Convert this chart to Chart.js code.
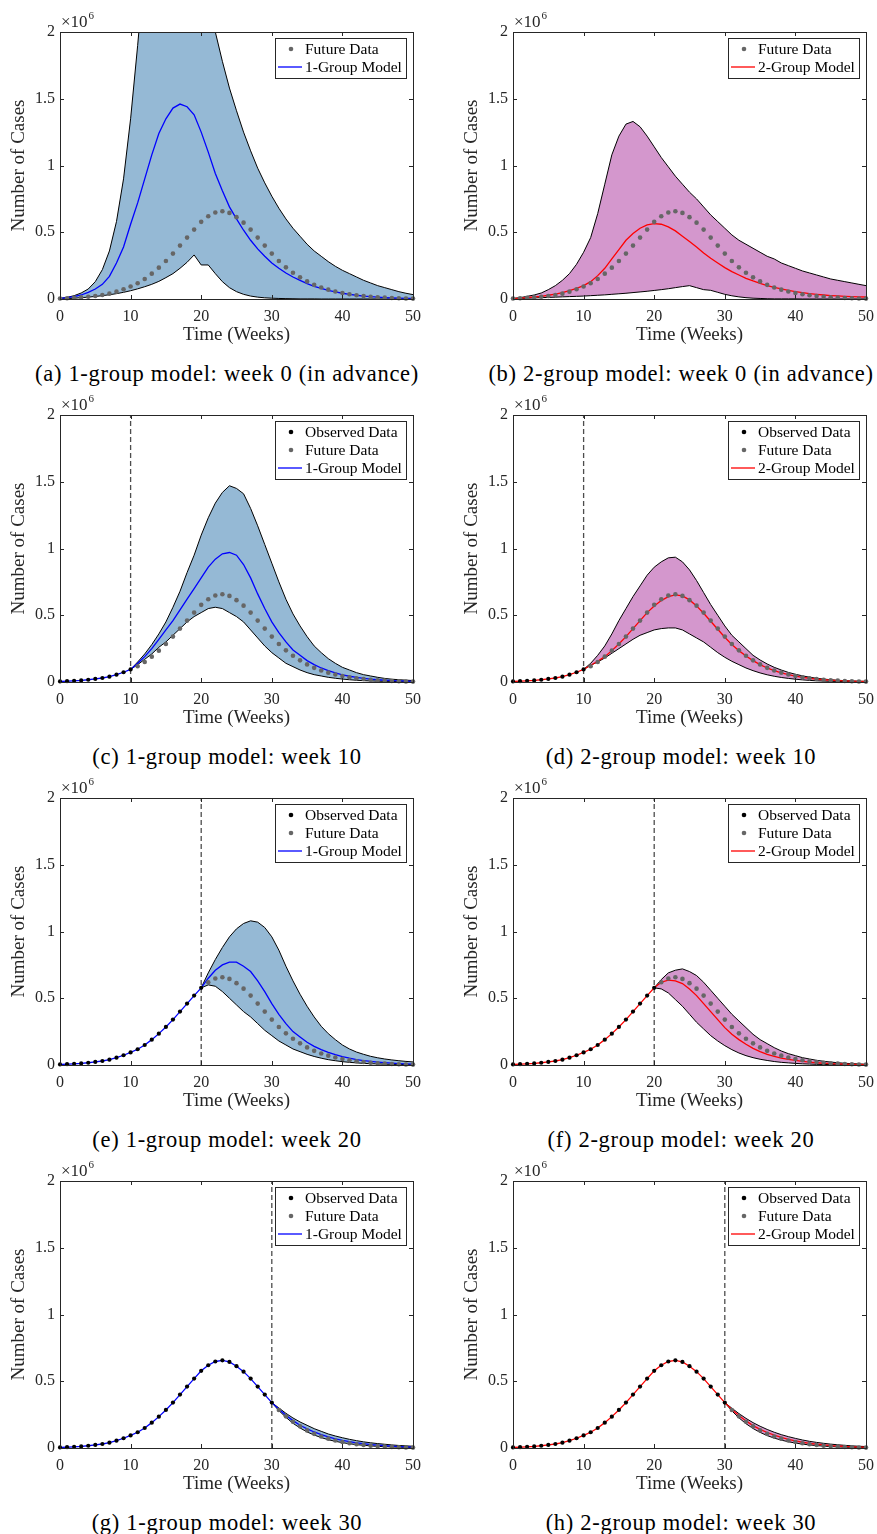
<!DOCTYPE html>
<html>
<head>
<meta charset="utf-8">
<script src="https://cdn.jsdelivr.net/npm/chart.js@4.4.1/dist/chart.umd.min.js"></script>
<style>
  body { margin: 0; background: #fff; width: 877px; height: 1534px; position: relative; overflow: hidden; font-family: "Liberation Serif", serif; }
  .panel { position: absolute; width: 424px; height: 350px; }
  .caption { position: absolute; width: 454px; text-align: center; font-size: 22.5px; letter-spacing: 0.7px; line-height: 24px; color: #000; white-space: nowrap; }
</style>
</head>
<body>
<script>
// weeks on the x axis
const weeks = [0, 1, 2, 3, 4, 5, 6, 7, 8, 9, 10, 11, 12, 13, 14, 15, 16, 17, 18, 19, 20,
  21, 22, 23, 24, 25, 26, 27, 28, 29, 30, 31, 32, 33, 34, 35, 36, 37, 38, 39, 40,
  41, 42, 43, 44, 45, 46, 47, 48, 49, 50];

// weekly cases (x10^6), weeks 0..50
const reportedCases = [0.004, 0.006, 0.009, 0.012, 0.017, 0.023, 0.030, 0.040, 0.055, 0.073,
  0.094, 0.118, 0.150, 0.190, 0.235, 0.285, 0.340, 0.400, 0.460, 0.520,
  0.578, 0.620, 0.648, 0.657, 0.645, 0.613, 0.572, 0.520, 0.460, 0.400,
  0.340, 0.285, 0.237, 0.197, 0.162, 0.132, 0.106, 0.086, 0.070, 0.056,
  0.045, 0.036, 0.028, 0.022, 0.017, 0.013, 0.010, 0.008, 0.006, 0.004, 0.003];

// forecast made at week 0 (weeks 0..50)
const oneGroupWeek0Mean = [0.004, 0.010, 0.018, 0.030, 0.050, 0.075, 0.110, 0.170, 0.270, 0.390,
  0.560, 0.720, 0.900, 1.080, 1.240, 1.350, 1.430, 1.460, 1.440, 1.380,
  1.250, 1.100, 0.940, 0.810, 0.690, 0.600, 0.515, 0.440, 0.375, 0.320,
  0.270, 0.230, 0.195, 0.165, 0.140, 0.115, 0.095, 0.080, 0.065, 0.053,
  0.043, 0.035, 0.028, 0.022, 0.018, 0.014, 0.011, 0.009, 0.007, 0.005, 0.004];
const oneGroupWeek0Upper = [0.005, 0.012, 0.025, 0.045, 0.075, 0.130, 0.220, 0.360, 0.580, 0.900,
  1.350, 1.900, 2.500, 3.000, 3.400, 3.600, 3.650, 3.600, 3.400, 3.100,
  2.750, 2.350, 2.000, 1.780, 1.580, 1.410, 1.250, 1.110, 0.980, 0.870,
  0.770, 0.680, 0.600, 0.530, 0.470, 0.410, 0.360, 0.320, 0.280, 0.245,
  0.215, 0.190, 0.165, 0.140, 0.120, 0.100, 0.085, 0.070, 0.055, 0.043, 0.033];
const oneGroupWeek0Lower = [0.000, 0.003, 0.006, 0.010, 0.014, 0.019, 0.025, 0.032, 0.040, 0.050,
  0.062, 0.076, 0.092, 0.110, 0.132, 0.160, 0.190, 0.230, 0.275, 0.330,
  0.255, 0.255, 0.190, 0.130, 0.085, 0.055, 0.035, 0.022, 0.014, 0.009,
  0.006, 0.004, 0.003, 0.002, 0.001, 0.001, 0.001, 0.000, 0.000, 0.000,
  0.000, 0.000, 0.000, 0.000, 0.000, 0.000, 0.000, 0.000, 0.000, 0.000, 0.000];

const twoGroupWeek0Mean = [0.003, 0.006, 0.010, 0.015, 0.020, 0.028, 0.037, 0.048, 0.062, 0.080,
  0.100, 0.130, 0.175, 0.230, 0.300, 0.370, 0.440, 0.490, 0.530, 0.555,
  0.565, 0.560, 0.540, 0.510, 0.470, 0.430, 0.390, 0.345, 0.305, 0.270,
  0.235, 0.205, 0.180, 0.155, 0.135, 0.117, 0.100, 0.087, 0.075, 0.064,
  0.055, 0.047, 0.040, 0.035, 0.030, 0.026, 0.023, 0.020, 0.018, 0.016, 0.015];
const twoGroupWeek0Upper = [0.005, 0.010, 0.020, 0.030, 0.045, 0.070, 0.100, 0.140, 0.190, 0.260,
  0.350, 0.460, 0.640, 0.860, 1.080, 1.220, 1.310, 1.330, 1.290, 1.220,
  1.140, 1.060, 0.990, 0.920, 0.860, 0.800, 0.750, 0.690, 0.630, 0.580,
  0.530, 0.480, 0.440, 0.410, 0.380, 0.350, 0.320, 0.300, 0.270, 0.250,
  0.230, 0.210, 0.195, 0.180, 0.165, 0.150, 0.140, 0.130, 0.120, 0.110, 0.100];
const twoGroupWeek0Lower = [0.002, 0.004, 0.006, 0.008, 0.010, 0.012, 0.014, 0.016, 0.018, 0.020,
  0.022, 0.025, 0.028, 0.031, 0.035, 0.039, 0.043, 0.048, 0.053, 0.058,
  0.064, 0.070, 0.077, 0.085, 0.093, 0.100, 0.085, 0.070, 0.065, 0.050,
  0.035, 0.024, 0.016, 0.010, 0.006, 0.004, 0.002, 0.001, 0.001, 0.001,
  0.001, 0.000, 0.000, 0.000, 0.000, 0.000, 0.000, 0.000, 0.000, 0.000, 0.000];

// forecast made at week 10 (weeks 10..50)
const oneGroupWeek10Mean = [0.094, 0.140, 0.190, 0.250, 0.320, 0.390, 0.460, 0.540, 0.620, 0.700,
  0.780, 0.860, 0.920, 0.960, 0.970, 0.950, 0.880, 0.780, 0.660, 0.550,
  0.450, 0.370, 0.300, 0.240, 0.200, 0.160, 0.130, 0.105, 0.085, 0.068,
  0.054, 0.043, 0.034, 0.027, 0.021, 0.017, 0.013, 0.010, 0.008, 0.006, 0.005];
const oneGroupWeek10Upper = [0.094, 0.150, 0.210, 0.280, 0.360, 0.450, 0.560, 0.680, 0.820, 0.950,
  1.100, 1.230, 1.340, 1.420, 1.470, 1.450, 1.410, 1.300, 1.170, 1.030,
  0.890, 0.750, 0.620, 0.510, 0.420, 0.340, 0.270, 0.220, 0.175, 0.140,
  0.110, 0.090, 0.070, 0.055, 0.045, 0.035, 0.027, 0.021, 0.017, 0.014, 0.011];
const oneGroupWeek10Lower = [0.094, 0.130, 0.170, 0.210, 0.260, 0.300, 0.350, 0.400, 0.450, 0.490,
  0.520, 0.550, 0.560, 0.550, 0.520, 0.490, 0.450, 0.390, 0.330, 0.270,
  0.220, 0.180, 0.140, 0.115, 0.090, 0.070, 0.055, 0.045, 0.035, 0.028,
  0.022, 0.017, 0.013, 0.010, 0.008, 0.006, 0.005, 0.004, 0.003, 0.002, 0.002];

const twoGroupWeek10Mean = [0.094, 0.125, 0.155, 0.190, 0.235, 0.285, 0.340, 0.400, 0.460, 0.520,
  0.570, 0.610, 0.640, 0.652, 0.645, 0.615, 0.570, 0.515, 0.455, 0.395,
  0.335, 0.280, 0.235, 0.195, 0.160, 0.130, 0.105, 0.085, 0.068, 0.055,
  0.044, 0.035, 0.028, 0.022, 0.017, 0.013, 0.010, 0.008, 0.006, 0.005, 0.004];
const twoGroupWeek10Upper = [0.094, 0.140, 0.200, 0.270, 0.360, 0.460, 0.550, 0.640, 0.720, 0.800,
  0.860, 0.900, 0.930, 0.935, 0.900, 0.840, 0.760, 0.670, 0.580, 0.500,
  0.420, 0.350, 0.300, 0.250, 0.200, 0.165, 0.135, 0.110, 0.090, 0.072,
  0.058, 0.046, 0.036, 0.028, 0.022, 0.017, 0.013, 0.010, 0.008, 0.006, 0.005];
const twoGroupWeek10Lower = [0.094, 0.125, 0.150, 0.180, 0.215, 0.250, 0.285, 0.320, 0.350, 0.370,
  0.390, 0.400, 0.405, 0.405, 0.390, 0.360, 0.330, 0.300, 0.260, 0.220,
  0.185, 0.155, 0.130, 0.105, 0.085, 0.068, 0.054, 0.043, 0.034, 0.027,
  0.021, 0.016, 0.012, 0.009, 0.007, 0.005, 0.004, 0.003, 0.002, 0.002, 0.001];

// forecast made at week 20 (weeks 20..50)
const oneGroupWeek20Mean = [0.578, 0.650, 0.710, 0.750, 0.770, 0.770, 0.740, 0.700, 0.630, 0.550,
  0.460, 0.380, 0.310, 0.250, 0.210, 0.170, 0.140, 0.115, 0.095, 0.077,
  0.063, 0.051, 0.041, 0.033, 0.027, 0.022, 0.018, 0.014, 0.011, 0.009, 0.007];
const oneGroupWeek20Upper = [0.578, 0.690, 0.790, 0.880, 0.960, 1.020, 1.060, 1.080, 1.070, 1.030,
  0.960, 0.860, 0.740, 0.630, 0.530, 0.440, 0.360, 0.290, 0.235, 0.190,
  0.150, 0.120, 0.097, 0.080, 0.065, 0.054, 0.045, 0.038, 0.032, 0.027, 0.023];
const oneGroupWeek20Lower = [0.578, 0.600, 0.590, 0.550, 0.500, 0.450, 0.400, 0.360, 0.310, 0.260,
  0.220, 0.180, 0.150, 0.120, 0.100, 0.080, 0.064, 0.051, 0.040, 0.032,
  0.025, 0.020, 0.016, 0.012, 0.010, 0.008, 0.006, 0.005, 0.004, 0.003, 0.002];

const twoGroupWeek20Mean = [0.578, 0.620, 0.635, 0.630, 0.610, 0.570, 0.520, 0.460, 0.400, 0.340,
  0.280, 0.230, 0.190, 0.155, 0.125, 0.100, 0.080, 0.065, 0.052, 0.042,
  0.034, 0.027, 0.021, 0.017, 0.013, 0.010, 0.008, 0.006, 0.005, 0.004, 0.003];
const twoGroupWeek20Upper = [0.578, 0.640, 0.690, 0.710, 0.720, 0.700, 0.670, 0.620, 0.560, 0.500,
  0.440, 0.380, 0.330, 0.280, 0.230, 0.190, 0.160, 0.130, 0.105, 0.085,
  0.070, 0.055, 0.045, 0.035, 0.028, 0.022, 0.017, 0.013, 0.010, 0.008, 0.006];
const twoGroupWeek20Lower = [0.578, 0.570, 0.540, 0.490, 0.440, 0.380, 0.320, 0.270, 0.220, 0.180,
  0.145, 0.115, 0.090, 0.070, 0.055, 0.043, 0.034, 0.026, 0.020, 0.016,
  0.012, 0.009, 0.007, 0.005, 0.004, 0.003, 0.002, 0.002, 0.001, 0.001, 0.001];

// forecast made at week 30 (weeks 30..50)
const oneGroupWeek30Mean = [0.340, 0.290, 0.245, 0.205, 0.170, 0.143, 0.120, 0.100, 0.083, 0.069,
  0.057, 0.047, 0.039, 0.032, 0.026, 0.021, 0.017, 0.014, 0.011, 0.009, 0.007];
const oneGroupWeek30Upper = [0.340, 0.300, 0.260, 0.225, 0.195, 0.170, 0.145, 0.125, 0.105, 0.090,
  0.077, 0.065, 0.055, 0.046, 0.039, 0.033, 0.028, 0.023, 0.019, 0.016, 0.013];
const oneGroupWeek30Lower = [0.340, 0.280, 0.230, 0.185, 0.150, 0.120, 0.097, 0.078, 0.062, 0.050,
  0.040, 0.032, 0.025, 0.020, 0.016, 0.012, 0.010, 0.008, 0.006, 0.005, 0.004];

const twoGroupWeek30Mean = [0.340, 0.288, 0.243, 0.203, 0.168, 0.140, 0.116, 0.096, 0.079, 0.065,
  0.053, 0.043, 0.035, 0.028, 0.023, 0.018, 0.015, 0.012, 0.009, 0.007, 0.006];
const twoGroupWeek30Upper = [0.340, 0.298, 0.258, 0.222, 0.190, 0.163, 0.139, 0.118, 0.100, 0.085,
  0.072, 0.060, 0.050, 0.042, 0.035, 0.029, 0.024, 0.020, 0.016, 0.013, 0.011];
const twoGroupWeek30Lower = [0.340, 0.278, 0.226, 0.182, 0.146, 0.117, 0.093, 0.074, 0.059, 0.047,
  0.037, 0.029, 0.023, 0.018, 0.014, 0.011, 0.008, 0.006, 0.005, 0.004, 0.003];

const xTicks = [0, 10, 20, 30, 40, 50];
const yTicks = [0, 0.5, 1, 1.5, 2];

const captions = [
  '(a) 1-group model: week 0 (in advance)',
  '(b) 2-group model: week 0 (in advance)',
  '(c) 1-group model: week 10',
  '(d) 2-group model: week 10',
  '(e) 1-group model: week 20',
  '(f) 2-group model: week 20',
  '(g) 1-group model: week 30',
  '(h) 2-group model: week 30'
];

const axisColor = '#262626';
const serif = '"Liberation Serif", serif';
const oneGroup = { label: '1-Group Model', line: '#0000ff', band: '#95b9d5' };
const twoGroup = { label: '2-Group Model', line: '#ff0000', band: '#d497cd' };

const panels = [
  { start: 0, model: oneGroup, mean: oneGroupWeek0Mean, upper: oneGroupWeek0Upper, lower: oneGroupWeek0Lower },
  { start: 0, model: twoGroup, mean: twoGroupWeek0Mean, upper: twoGroupWeek0Upper, lower: twoGroupWeek0Lower },
  { start: 10, model: oneGroup, mean: oneGroupWeek10Mean, upper: oneGroupWeek10Upper, lower: oneGroupWeek10Lower },
  { start: 10, model: twoGroup, mean: twoGroupWeek10Mean, upper: twoGroupWeek10Upper, lower: twoGroupWeek10Lower },
  { start: 20, model: oneGroup, mean: oneGroupWeek20Mean, upper: oneGroupWeek20Upper, lower: oneGroupWeek20Lower },
  { start: 20, model: twoGroup, mean: twoGroupWeek20Mean, upper: twoGroupWeek20Upper, lower: twoGroupWeek20Lower },
  { start: 30, model: oneGroup, mean: oneGroupWeek30Mean, upper: oneGroupWeek30Upper, lower: oneGroupWeek30Lower },
  { start: 30, model: twoGroup, mean: twoGroupWeek30Mean, upper: twoGroupWeek30Upper, lower: twoGroupWeek30Lower }
];

Chart.defaults.font.family = serif;

function pointsFrom(startWeek, values) {
  return values.map((v, i) => ({ x: weeks[startWeek + i], y: v }));
}

// box, inward ticks, x10^6 note and the legend, drawn the MATLAB way
const matlabFrame = {
  id: 'matlabFrame',
  afterDraw(chart) {
    const { ctx, chartArea: a, scales } = chart;
    ctx.save();
    ctx.strokeStyle = axisColor;
    ctx.lineWidth = 1;
    ctx.beginPath();
    scales.x.ticks.forEach(t => {
      const px = Math.round(scales.x.getPixelForValue(t.value)) + 0.5;
      ctx.moveTo(px, a.bottom); ctx.lineTo(px, a.bottom - 4);
      ctx.moveTo(px, a.top); ctx.lineTo(px, a.top + 4);
    });
    scales.y.ticks.forEach(t => {
      const py = Math.round(scales.y.getPixelForValue(t.value)) + 0.5;
      ctx.moveTo(a.left, py); ctx.lineTo(a.left + 4, py);
      ctx.moveTo(a.right, py); ctx.lineTo(a.right - 4, py);
    });
    ctx.stroke();
    ctx.strokeRect(Math.round(a.left) + 0.5, Math.round(a.top) + 0.5,
      Math.round(a.right - a.left), Math.round(a.bottom - a.top));

    ctx.fillStyle = axisColor;
    ctx.textAlign = 'left';
    ctx.textBaseline = 'alphabetic';
    ctx.font = '17px ' + serif;
    ctx.fillText('\u00d710', a.left + 1, a.top - 5);
    const w = ctx.measureText('\u00d710').width;
    ctx.font = '11px ' + serif;
    ctx.fillText('6', a.left + 2 + w, a.top - 13);

    const items = chart.data.datasets.filter(d => d.legendLabel);
    const boxW = 131, rowH = 18, boxH = items.length * rowH + 4;
    const bx = Math.round(a.right - 7 - boxW), by = Math.round(a.top + 6);
    ctx.fillStyle = '#fff';
    ctx.fillRect(bx, by, boxW, boxH);
    ctx.strokeStyle = axisColor;
    ctx.strokeRect(bx + 0.5, by + 0.5, boxW, boxH);
    ctx.font = '15.5px ' + serif;
    ctx.textBaseline = 'middle';
    items.forEach((d, i) => {
      const cy = by + 11 + i * rowH;
      if (d.showLine === false) {
        ctx.fillStyle = d.pointBackgroundColor;
        ctx.beginPath();
        ctx.arc(bx + 16, cy, 2.3, 0, Math.PI * 2);
        ctx.fill();
      } else {
        ctx.strokeStyle = d.borderColor;
        ctx.lineWidth = 1.3;
        ctx.beginPath();
        ctx.moveTo(bx + 3, cy); ctx.lineTo(bx + 27, cy);
        ctx.stroke();
      }
      ctx.fillStyle = '#000';
      ctx.fillText(d.legendLabel, bx + 30, cy + 1);
    });
    ctx.restore();
  }
};

panels.forEach((p, i) => {
  const col = i % 2, row = Math.floor(i / 2);
  const top = row * 383;

  const holder = document.createElement('div');
  holder.className = 'panel';
  holder.style.left = (col ? 453 : 0) + 'px';
  holder.style.top = top + 'px';
  const canvas = document.createElement('canvas');
  canvas.width = 424;
  canvas.height = 350;
  holder.appendChild(canvas);
  document.body.appendChild(holder);

  const cap = document.createElement('div');
  cap.className = 'caption';
  cap.style.left = (col ? 454 : 0) + 'px';
  cap.style.top = (top + 362) + 'px';
  cap.textContent = captions[i];
  document.body.appendChild(cap);

  const observed = p.start > 0 ? pointsFrom(0, reportedCases.slice(0, p.start + 1)) : [];
  const future = pointsFrom(p.start > 0 ? p.start + 1 : 0, reportedCases.slice(p.start > 0 ? p.start + 1 : 0));
  const modelLine = pointsFrom(0, reportedCases.slice(0, p.start)).concat(pointsFrom(p.start, p.mean));

  const datasets = [];
  if (p.start > 0) {
    datasets.push({ legendLabel: 'Observed Data', data: observed, showLine: false,
      pointRadius: 2.1, pointBackgroundColor: '#000', pointBorderWidth: 0, clip: false });
  }
  datasets.push({ legendLabel: 'Future Data', data: future, showLine: false,
    pointRadius: 2.3, pointBackgroundColor: '#666666', pointBorderWidth: 0, clip: false });
  datasets.push({ legendLabel: p.model.label, data: modelLine, borderColor: p.model.line,
    borderWidth: 1.3, pointRadius: 0, fill: false, tension: 0 });
  if (p.start > 0) {
    datasets.push({ data: [{ x: p.start, y: 0 }, { x: p.start, y: 2 }], borderColor: '#4d4d4d',
      borderWidth: 1.3, borderDash: [5, 3], pointRadius: 0, fill: false });
  }
  datasets.push({ data: pointsFrom(p.start, p.upper), borderColor: '#000', borderWidth: 1,
    pointRadius: 0, fill: false, tension: 0 });
  datasets.push({ data: pointsFrom(p.start, p.lower), borderColor: '#000', borderWidth: 1,
    pointRadius: 0, tension: 0, fill: { target: '-1' }, backgroundColor: p.model.band });

  new Chart(canvas, {
    type: 'line',
    data: { datasets: datasets },
    options: {
      responsive: false,
      animation: false,
      events: [],
      layout: { padding: { top: 32, right: 11, left: 0, bottom: 0 } },
      plugins: { legend: { display: false }, tooltip: { enabled: false } },
      scales: {
        x: {
          type: 'linear', min: 0, max: 50,
          afterBuildTicks: s => { s.ticks = xTicks.map(v => ({ value: v })); },
          ticks: { color: axisColor, font: { family: serif, size: 16 }, padding: 8, maxRotation: 0,
            callback: v => String(v) },
          grid: { display: false, drawTicks: false },
          border: { display: false },
          title: { display: true, text: 'Time (Weeks)', color: axisColor,
            font: { family: serif, size: 19 }, padding: { top: 0, bottom: 4 } },
          afterFit: s => { s.height = 51; s.paddingLeft = 0; s.paddingRight = 0; }
        },
        y: {
          type: 'linear', min: 0, max: 2,
          afterBuildTicks: s => { s.ticks = yTicks.map(v => ({ value: v })); },
          ticks: { color: axisColor, font: { family: serif, size: 16 }, padding: 5,
            callback: v => String(v) },
          grid: { display: false, drawTicks: false },
          border: { display: false },
          title: { display: true, text: 'Number of Cases', color: axisColor,
            font: { family: serif, size: 19 }, padding: { top: 8, bottom: 0 } },
          afterFit: s => { s.width = 60; s.paddingTop = 0; s.paddingBottom = 0; }
        }
      }
    },
    plugins: [matlabFrame]
  });
});
</script>
</body>
</html>
